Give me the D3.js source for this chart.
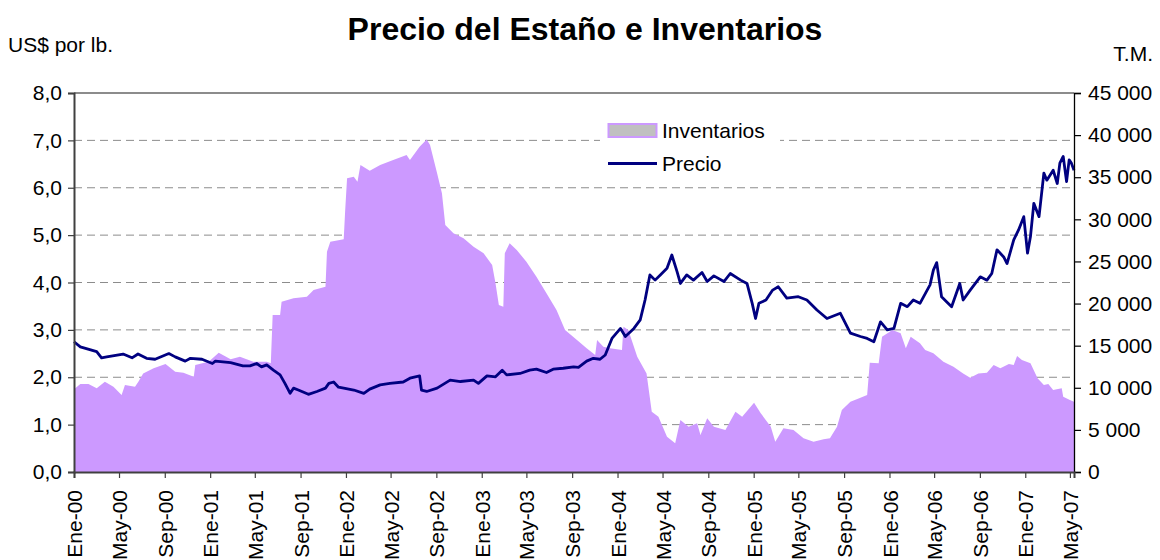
<!DOCTYPE html>
<html>
<head>
<meta charset="utf-8">
<script src="https://cdn.jsdelivr.net/npm/d3@7"></script>
<style>
  html, body { margin: 0; padding: 0; background: #fff; }
  svg { display: block; font-family: "Liberation Sans", Arial, sans-serif; }
</style>
</head>
<body>
<svg id="chart" width="1160" height="560"></svg>
<script>
// Spanish month abbreviations for the date axis
const monthLabels = ["Ene", "Feb", "Mar", "Abr", "May", "Jun", "Jul", "Ago", "Sep", "Oct", "Nov", "Dic"];

// Tin price, US$ per lb.
const priceDates = [
  "2000-01-01","2000-01-18","2000-03-02","2000-03-15","2000-03-29","2000-05-12","2000-06-05","2000-06-21",
  "2000-07-14","2000-08-06","2000-09-12","2000-09-29","2000-10-26","2000-11-09","2000-12-10","2001-01-07",
  "2001-01-15","2001-02-25","2001-03-30","2001-04-18","2001-05-06","2001-05-19","2001-06-02","2001-06-20",
  "2001-07-08","2001-07-21","2001-08-04","2001-08-13","2001-08-26","2001-09-22","2001-10-15","2001-11-07",
  "2001-11-16","2001-11-29","2001-12-12","2001-12-26","2002-01-22","2002-02-18","2002-03-06","2002-04-03",
  "2002-04-29","2002-06-04","2002-06-22","2002-07-18","2002-07-23","2002-08-06","2002-09-03","2002-10-08",
  "2002-11-05","2002-12-10","2002-12-23","2003-01-15","2003-02-07","2003-02-25","2003-03-09","2003-04-14",
  "2003-05-10","2003-05-28","2003-06-24","2003-07-12","2003-08-08","2003-09-05","2003-09-18","2003-10-10",
  "2003-10-28","2003-11-15","2003-11-29","2003-12-17","2004-01-09","2004-01-22","2004-02-14","2004-03-02",
  "2004-03-15","2004-03-28","2004-04-11","2004-04-25","2004-05-13","2004-05-26","2004-06-09","2004-06-18",
  "2004-07-05","2004-07-23","2004-08-15","2004-08-29","2004-09-16","2004-10-13","2004-10-30","2004-11-27",
  "2004-12-14","2004-12-28","2005-01-06","2005-01-15","2005-02-03","2005-02-21","2005-03-08","2005-03-31",
  "2005-05-01","2005-05-24","2005-06-20","2005-07-17","2005-08-22","2005-09-18","2005-10-15","2005-11-02",
  "2005-11-20","2005-12-08","2005-12-26","2006-01-13","2006-01-31","2006-02-18","2006-03-06","2006-03-24",
  "2006-04-20","2006-04-29","2006-05-08","2006-05-21","2006-06-04","2006-06-17","2006-07-09","2006-07-18",
  "2006-08-06","2006-09-02","2006-09-20","2006-10-03","2006-10-17","2006-11-04","2006-11-13","2006-12-01",
  "2006-12-14","2006-12-28","2007-01-07","2007-01-15","2007-01-24","2007-02-07","2007-02-20","2007-02-28",
  "2007-03-17","2007-03-28","2007-04-04","2007-04-13","2007-04-22","2007-04-29","2007-05-05","2007-05-12"
];
const priceValues = [
  2.75, 2.64, 2.54, 2.41, 2.43, 2.49, 2.41, 2.49,
  2.40, 2.38, 2.50, 2.43, 2.34, 2.40, 2.38, 2.29,
  2.34, 2.31, 2.24, 2.24, 2.29, 2.22, 2.26, 2.15,
  2.05, 1.87, 1.66, 1.77, 1.73, 1.64, 1.70, 1.77,
  1.87, 1.90, 1.79, 1.77, 1.73, 1.66, 1.75, 1.84,
  1.87, 1.90, 1.98, 2.03, 1.73, 1.70, 1.77, 1.94,
  1.91, 1.94, 1.87, 2.03, 2.01, 2.15, 2.05, 2.08,
  2.15, 2.17, 2.10, 2.17, 2.19, 2.22, 2.21, 2.34,
  2.40, 2.38, 2.47, 2.82, 3.03, 2.86, 3.03, 3.21,
  3.63, 4.16, 4.05, 4.16, 4.30, 4.58, 4.23, 3.98,
  4.16, 4.05, 4.21, 4.02, 4.14, 4.02, 4.19, 4.05,
  3.98, 3.56, 3.24, 3.56, 3.63, 3.84, 3.91, 3.67,
  3.70, 3.63, 3.42, 3.24, 3.35, 2.93, 2.86, 2.82,
  2.75, 3.17, 3.00, 3.03, 3.56, 3.49, 3.63, 3.56,
  3.95, 4.26, 4.42, 3.70, 3.59, 3.49, 3.98, 3.63,
  3.84, 4.12, 4.05, 4.19, 4.69, 4.54, 4.40, 4.90,
  5.11, 5.39, 4.62, 4.97, 5.67, 5.39, 6.31, 6.16,
  6.37, 6.09, 6.52, 6.66, 6.13, 6.59, 6.52, 6.37
];

// Tin stocks, metric tonnes
const stockDates = [
  "2000-01-01","2000-01-18","2000-02-09","2000-03-02","2000-03-24","2000-04-16","2000-05-08","2000-05-17",
  "2000-06-13","2000-06-22","2000-07-05","2000-08-02","2000-09-03","2000-09-29","2000-10-21","2000-11-18",
  "2000-11-22","2000-12-28","2001-01-24","2001-02-25","2001-03-22","2001-04-27","2001-06-02","2001-06-13",
  "2001-06-18","2001-07-08","2001-07-12","2001-08-13","2001-09-18","2001-10-06","2001-11-07","2001-11-11",
  "2001-11-20","2001-12-26","2001-12-30","2002-01-04","2002-01-22","2002-02-01","2002-02-09","2002-03-06",
  "2002-04-03","2002-05-08","2002-06-13","2002-06-22","2002-07-18","2002-08-06","2002-08-15","2002-09-03",
  "2002-09-16","2002-09-25","2002-10-17","2002-11-05","2002-11-13","2002-12-10","2003-01-06","2003-01-29",
  "2003-02-07","2003-02-16","2003-02-28","2003-03-04","2003-03-17","2003-04-05","2003-05-01","2003-05-28",
  "2003-06-24","2003-07-21","2003-08-13","2003-09-14","2003-10-10","2003-11-02","2003-11-07","2003-11-24",
  "2003-12-12","2004-01-13","2004-01-17","2004-01-30","2004-02-23","2004-03-19","2004-04-02","2004-04-20",
  "2004-05-13","2004-06-04","2004-06-18","2004-07-10","2004-08-02","2004-08-11","2004-08-29","2004-09-16",
  "2004-10-17","2004-11-13","2004-12-01","2005-01-02","2005-01-20","2005-02-16","2005-02-28","2005-03-22",
  "2005-04-18","2005-05-15","2005-06-11","2005-07-08","2005-07-25","2005-08-13","2005-08-26","2005-09-18",
  "2005-10-10","2005-11-02","2005-11-09","2005-12-03","2005-12-12","2006-01-09","2006-01-31","2006-02-14",
  "2006-02-27","2006-03-24","2006-04-07","2006-04-29","2006-05-26","2006-06-22","2006-07-18","2006-08-06",
  "2006-08-28","2006-09-20","2006-10-08","2006-10-26","2006-11-18","2006-12-01","2006-12-10","2006-12-23",
  "2007-01-15","2007-02-03","2007-02-20","2007-03-04","2007-03-17","2007-04-09","2007-04-13","2007-05-01",
  "2007-05-12"
];
const stockValues = [
  9820, 10450, 10450, 9930, 10720, 10130, 9140, 10330,
  10130, 10720, 11710, 12310, 12820, 11910, 11790, 11310,
  12700, 13100, 14170, 13380, 13690, 13100, 13100, 12900,
  18640, 18640, 20220, 20620, 20810, 21610, 22000, 26160,
  27340, 27630, 31110, 34870, 35060, 34470, 36450, 35770,
  36450, 37040, 37640, 37040, 38620, 39490, 38820, 35470,
  33090, 29330, 28340, 27940, 27740, 26750, 25970, 24580,
  22400, 19830, 19630, 25970, 27150, 26360, 24970, 23190,
  21220, 19230, 16860, 15670, 14690, 13890, 15670, 14880,
  14690, 14490, 17250, 16860, 13690, 11710, 7160, 6570,
  4190, 3410, 6170, 5380, 5780, 4390, 6370, 5380,
  4990, 7160, 6570, 8230, 6970, 5380, 3600, 5190,
  4990, 4000, 3600, 3880, 4000, 5380, 7360, 8350,
  8740, 9140, 12980, 12900, 16070, 16860, 16460, 14690,
  16070, 15280, 14490, 14100, 13100, 12500, 11710, 11200,
  11710, 11790, 12700, 12310, 12820, 12700, 13770, 13300,
  12900, 11120, 10330, 10450, 9740, 9930, 8940, 8550,
  8350
];

const priceTicks = [0, 1, 2, 3, 4, 5, 6, 7, 8];
const stockTicks = [0, 5000, 10000, 15000, 20000, 25000, 30000, 35000, 40000, 45000];
const seriesNames = ["Inventarios", "Precio"];

const parse = d3.timeParse("%Y-%m-%d");
const price = priceDates.map((d, i) => ({ date: parse(d), value: priceValues[i] }));
const stock = stockDates.map((d, i) => ({ date: parse(d), value: stockValues[i] }));

const plot = { left: 74, right: 1074, top: 93, bottom: 472 };
const FONT = 21;

const svg = d3.select("#chart");

const x = d3.scaleTime()
  .domain([parse("2000-01-01"), parse("2007-05-12")])
  .range([plot.left, plot.right]);
const yL = d3.scaleLinear().domain([0, 8]).range([plot.bottom, plot.top]);
const yR = d3.scaleLinear().domain([0, 45000]).range([plot.bottom, plot.top]);

const es = d3.formatLocale({ decimal: ",", thousands: " ", grouping: [3], currency: ["$", ""] });
const fmtPrice = es.format(".1f");
const fmtStock = es.format(",.0f");
const fmtDate = d => monthLabels[d.getMonth()] + "-" + d3.timeFormat("%y")(d);

// dashed horizontal gridlines
svg.append("g")
  .selectAll("line")
  .data(priceTicks.filter(t => t > 0 && t < 8))
  .join("line")
  .attr("x1", plot.left).attr("x2", plot.right)
  .attr("y1", d => yL(d)).attr("y2", d => yL(d))
  .attr("stroke", "#8c8c8c")
  .attr("stroke-width", 1)
  .attr("stroke-dasharray", "8,5");

// inventories as a filled area on the right scale
svg.append("path")
  .datum(stock)
  .attr("fill", "#cc99ff")
  .attr("d", d3.area()
    .x(d => x(d.date))
    .y0(yR(0))
    .y1(d => yR(d.value)));

// price line on the left scale
svg.append("path")
  .datum(price)
  .attr("fill", "none")
  .attr("stroke", "#000080")
  .attr("stroke-width", 2.8)
  .attr("stroke-linejoin", "round")
  .attr("d", d3.line()
    .x(d => x(d.date))
    .y(d => yL(d.value)));

// top frame line
svg.append("line")
  .attr("x1", plot.left).attr("x2", plot.right)
  .attr("y1", plot.top).attr("y2", plot.top)
  .attr("stroke", "#8c8c8c").attr("stroke-width", 2);

// left axis
const gL = svg.append("g")
  .attr("transform", `translate(${plot.left},0)`)
  .call(d3.axisLeft(yL).tickValues(priceTicks).tickFormat(fmtPrice).tickSize(6).tickPadding(6));
gL.select(".domain").attr("stroke", "#404040").attr("stroke-width", 2);
gL.selectAll(".tick line").attr("stroke", "#404040").attr("stroke-width", 1.2);

// right axis
const gR = svg.append("g")
  .attr("transform", `translate(${plot.right},0)`)
  .call(d3.axisRight(yR).tickValues(stockTicks).tickFormat(fmtStock).tickSize(7).tickPadding(7));
gR.select(".domain").attr("stroke", "#000").attr("stroke-width", 1.3);
gR.selectAll(".tick line").attr("stroke", "#000").attr("stroke-width", 1.2);

// bottom date axis
const gB = svg.append("g")
  .attr("transform", `translate(0,${plot.bottom})`)
  .call(d3.axisBottom(x).ticks(d3.timeMonth.every(4)).tickFormat(fmtDate).tickSize(6));
gB.select(".domain").attr("stroke", "#404040").attr("stroke-width", 2);
gB.selectAll(".tick line").attr("stroke", "#404040").attr("stroke-width", 1.2);
gB.selectAll(".tick text")
  .attr("transform", "rotate(-90)")
  .attr("text-anchor", "end")
  .attr("x", -18)
  .attr("y", 0)
  .attr("dy", "0.36em");

svg.selectAll(".tick text")
  .attr("font-family", "Liberation Sans, Arial, sans-serif")
  .attr("font-size", FONT)
  .attr("fill", "#000");

// legend
const legend = svg.append("g");
legend.append("rect")
  .attr("x", 600).attr("y", 112).attr("width", 180).attr("height", 70)
  .attr("fill", "#fff");
legend.append("rect")
  .attr("x", 608.5).attr("y", 124).attr("width", 48).attr("height", 13)
  .attr("fill", "#c0c0c0").attr("stroke", "#cc99ff").attr("stroke-width", 2);
legend.append("line")
  .attr("x1", 608).attr("x2", 657).attr("y1", 163.5).attr("y2", 163.5)
  .attr("stroke", "#000080").attr("stroke-width", 2.8);
legend.selectAll("text.lg")
  .data(seriesNames)
  .join("text")
  .attr("class", "lg")
  .attr("x", 662)
  .attr("y", (d, i) => 138 + i * 33)
  .attr("font-size", FONT)
  .attr("fill", "#000")
  .text(d => d);

// titles
svg.append("text")
  .attr("x", 585).attr("y", 40)
  .attr("text-anchor", "middle")
  .attr("font-size", 32)
  .attr("font-weight", "bold")
  .text("Precio del Estaño e Inventarios");
svg.append("text")
  .attr("x", 8).attr("y", 52)
  .attr("font-size", FONT)
  .text("US$ por lb.");
svg.append("text")
  .attr("x", 1153).attr("y", 61)
  .attr("text-anchor", "end")
  .attr("font-size", FONT)
  .text("T.M.");
</script>
</body>
</html>
